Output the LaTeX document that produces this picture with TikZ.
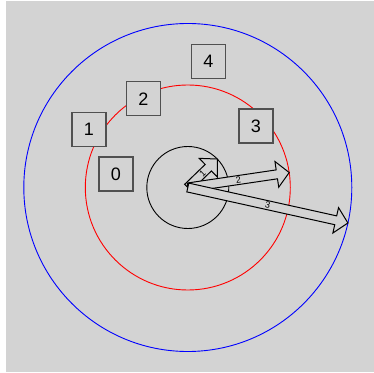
\documentclass[tikz,border=0pt]{standalone}
\usepackage{fontspec}
\setmainfont{Liberation Sans}
\usepackage{tikz}
\usetikzlibrary{calc}
\definecolor{bggray}{RGB}{211,211,211}
\definecolor{boxedge}{RGB}{80,80,80}

\begin{document}
\begin{tikzpicture}[x=1pt, y=1pt,
    box/.style={draw=boxedge, fill=bggray, line width=1.4pt, minimum size=34pt,
                inner sep=0pt, font=\fontsize{18}{18}\selectfont},
    vecarrow/.style={draw=black, fill=bggray, line width=1pt, line join=miter},
    veclabel/.style={inner sep=0pt, font=\fontsize{9}{9}\selectfont}]
  \useasboundingbox (0,0) rectangle (374,372);
  \fill[bggray] (6,0) rectangle (374,371);

  \coordinate (O) at (187.8,184.5);

  % Circles
  \draw[black, line width=0.9pt] (O) circle (41pt);
  \draw[red, line width=0.9pt] (O) circle (102.5pt);
  \draw[blue, line width=0.9pt] (O) circle (164pt);

  % Vectors
  \foreach \ang/\len/\lab in {44/41/1, 8.4/102.5/2, -12.5/164/3} {
    \begin{scope}[shift={(O)}, rotate=\ang]
      \draw[vecarrow] (0,4.5) -- (\len-12.5,4.5) -- (\len-12.5,13) -- (\len,0)
        -- (\len-12.5,-13) -- (\len-12.5,-4.5) -- (0,-4.5) -- cycle;
      \node[veclabel, rotate=\ang] (lab\lab) at (\len/2,0) {\lab};
    \end{scope}
  }

  % Boxes
  \node[box] (b0) at (116,198) {0};
  \node[box] (b1) at (89,242.5) {1};
  \node[box] (b2) at (143.3,273.2) {2};
  \node[box] (b3) at (256,246) {3};
  \node[box] (b4) at (208.3,310.7) {4};
\end{tikzpicture}
\end{document}
